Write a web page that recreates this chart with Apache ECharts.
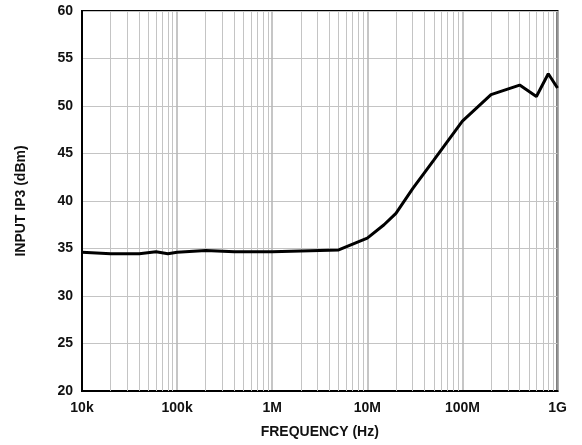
<!DOCTYPE html>
<html>
<head>
<meta charset="utf-8">
<script src="https://cdn.jsdelivr.net/npm/echarts@6/dist/echarts.min.js"></script>
<style>html,body{margin:0;padding:0;background:#fff}#c{width:582px;height:445px}</style>
</head>
<body>
<div id="c"></div>
<script>
const freqHz = [1e4, 2e4, 4e4, 6e4, 8e4, 1e5, 2e5, 4e5, 1e6, 5e6, 1e7, 1.5e7, 2e7, 3e7, 5e7, 1e8, 2e8, 4e8, 6e8, 8e8, 1e9];
const ip3dBm = [34.6, 34.45, 34.45, 34.65, 34.45, 34.6, 34.8, 34.65, 34.65, 34.85, 36.1, 37.5, 38.7, 41.3, 44.3, 48.4, 51.2, 52.2, 51.0, 53.4, 51.9];
const decadeTicks = [1e4, 1e5, 1e6, 1e7, 1e8, 1e9];
const decadeLabels = ['10k', '100k', '1M', '10M', '100M', '1G'];
const minorMultipliers = [2, 3, 4, 5, 6, 7, 8, 9];

const minorLines = [];
decadeTicks.slice(0, -1).forEach(d => minorMultipliers.forEach(m => minorLines.push({ xAxis: d * m })));

const font = { fontFamily: 'Liberation Sans, Arial, sans-serif', fontWeight: 'bold', fontSize: 14, color: '#111' };

const chart = echarts.init(document.getElementById('c'), null, { renderer: 'canvas' });
chart.setOption({
  animation: false,
  grid: { left: 82, top: 11, right: 24.5, bottom: 54, show: true, borderColor: '#000', borderWidth: 2, backgroundColor: 'transparent' },
  xAxis: {
    type: 'log', logBase: 10, min: 1e4, max: 1e9,
    name: 'FREQUENCY (Hz)', nameLocation: 'middle', nameGap: 34, nameMoveOverlap: false,
    nameTextStyle: Object.assign({ verticalAlign: 'top' }, font),
    axisLine: { lineStyle: { color: '#000', width: 2 } },
    axisTick: { show: false },
    axisLabel: Object.assign({ margin: 10, formatter: v => { const i = decadeTicks.findIndex(t => Math.abs(t - v) / t < 1e-6); return i >= 0 ? decadeLabels[i] : ''; } }, font),
    splitLine: { show: true, lineStyle: { color: '#b8b8b8', width: 1.6 } }
  },
  yAxis: {
    type: 'value', min: 20, max: 60, interval: 5,
    name: 'INPUT IP3 (dBm)', nameLocation: 'middle', nameGap: 54, nameMoveOverlap: false,
    nameTextStyle: Object.assign({}, font),
    axisLine: { show: true, lineStyle: { color: '#000', width: 2 } },
    axisTick: { show: false },
    axisLabel: Object.assign({ margin: 9 }, font),
    splitLine: { show: true, lineStyle: { color: '#c4c4c4', width: 1 } }
  },
  series: [{
    type: 'line',
    data: freqHz.map((f, i) => [f, ip3dBm[i]]),
    showSymbol: false,
    lineStyle: { color: '#000', width: 3 },
    z: 5,
    markLine: {
      silent: true, symbol: 'none', animation: false,
      label: { show: false },
      lineStyle: { color: '#c4c4c4', width: 1, type: 'solid' },
      data: minorLines,
      z: 1
    }
  }]
});
</script>
</body>
</html>
